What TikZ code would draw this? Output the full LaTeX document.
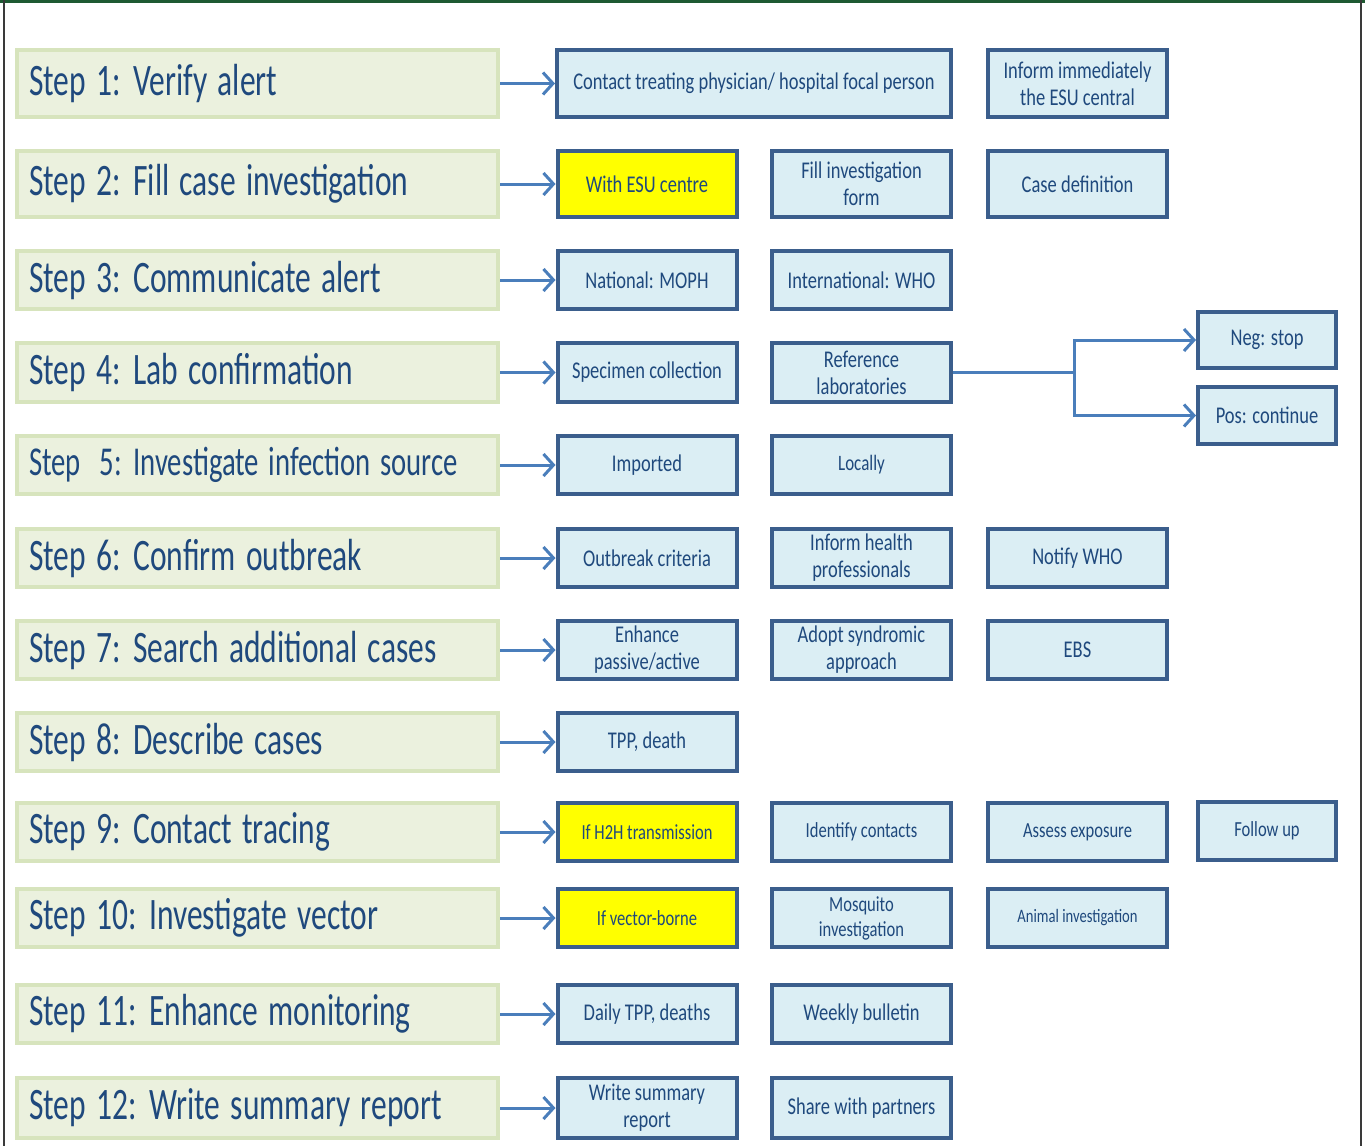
\documentclass[tikz,border=0pt]{standalone}
\usepackage{fontspec}
\setmainfont{Carlito}[FakeStretch=0.70,WordSpace=1.45]
\newfontfamily\boxfont{Carlito}[FakeStretch=0.77]
\usetikzlibrary{positioning,arrows.meta,calc}
\definecolor{stepfill}{HTML}{EBF1DE}
\definecolor{stepline}{HTML}{D7E4BD}
\definecolor{boxfill}{HTML}{DBEEF4}
\definecolor{boxline}{HTML}{3B5E8C}
\definecolor{ink}{HTML}{1F497D}
\definecolor{flow}{HTML}{4A7EBB}
\definecolor{hilite}{HTML}{FFFF00}
\definecolor{frametop}{HTML}{1E5A32}
\definecolor{frameside}{HTML}{3A3A3A}

\tikzset{
  stepbox/.style={draw=stepline,fill=stepfill,line width=4pt,text=ink,
    anchor=west,text width=457pt,inner xsep=12pt,align=flush left,minimum height=58pt,
    font=\fontsize{45}{50}\selectfont},
  actbox/.style={draw=boxline,fill=boxfill,line width=4pt,text=ink,
    minimum width=179pt,minimum height=58pt,align=center,inner sep=2pt,
    font=\boxfont\fontsize{24}{27}\selectfont},
  hibox/.style={actbox,fill=hilite},
  small/.style={font=\boxfont\fontsize{#1}{25}\selectfont},
  flowarrow/.style={draw=flow,line width=3pt,-{Straight Barb[length=10pt,width=22pt]}},
  flowline/.style={draw=flow,line width=3pt}
}

\begin{document}
\begin{tikzpicture}[x=1pt,y=-1pt]
  \useasboundingbox (0,0) rectangle (1365,1146);

  % outer frame
  \draw[frametop,line width=3pt] (0,1.5) -- (1365,1.5);
  \draw[frameside,line width=2pt] (4,0) -- (4,1146);
  \draw[frameside,line width=2pt] (1361,0) -- (1361,1146);

  % steps
  \node[stepbox,minimum height=67pt] (s1) at (15,83.5) {Step 1: Verify alert};
  \node[stepbox,minimum height=66pt] (s2) at (15,184) {Step 2: Fill case investigation};
  \node[stepbox] (s3) at (15,280) {Step 3: Communicate alert};
  \node[stepbox,minimum height=59pt] (s4) at (15,372.5) {Step 4: Lab confirmation};
  \node[stepbox,font=\fontsize{41}{46}\selectfont] (s5) at (15,465) {\mbox{Step\ \ 5: Investigate infection source}};
  \node[stepbox] (s6) at (15,558) {Step 6: Confirm outbreak};
  \node[stepbox] (s7) at (15,650) {Step 7: Search additional cases};
  \node[stepbox] (s8) at (15,742) {Step 8: Describe cases};
  \node[stepbox] (s9) at (15,832) {Step 9: Contact tracing};
  \node[stepbox] (s10) at (15,918) {Step 10: Investigate vector};
  \node[stepbox] (s11) at (15,1014) {Step 11: Enhance monitoring};
  \node[stepbox,minimum height=60pt] (s12) at (15,1108) {Step 12: Write summary report};

  % actions
  \node[actbox,minimum width=394pt,minimum height=67pt] (s1a) at (754,83.5) {Contact treating physician/ hospital focal person};
  \node[actbox,minimum height=67pt] (s1b) at (1077.5,83.5) {Inform immediately\\the ESU central};

  \node[hibox,minimum height=66pt] (s2a) at (647,184) {With ESU centre};
  \node[actbox,minimum height=66pt] (s2b) at (861.5,184) {Fill investigation\\form};
  \node[actbox,minimum height=66pt] (s2c) at (1077.5,184) {Case definition};

  \node[actbox] (s3a) at (647,280) {National: MOPH};
  \node[actbox] (s3b) at (861.5,280) {International: WHO};

  \node[actbox,minimum height=59pt] (s4a) at (647,372.5) {Specimen collection};
  \node[actbox,minimum height=59pt] (s4b) at (861.5,372.5) {Reference\\laboratories};
  \node[actbox,minimum width=138pt,minimum height=56pt] (neg) at (1267,340) {Neg: stop};
  \node[actbox,minimum width=138pt,minimum height=57pt] (pos) at (1267,415.5) {Pos: continue};

  \node[actbox] (s5a) at (647,465) {Imported};
  \node[actbox,small=22] (s5b) at (861.5,465) {Locally};

  \node[actbox] (s6a) at (647,558) {Outbreak criteria};
  \node[actbox] (s6b) at (861.5,558) {Inform health\\professionals};
  \node[actbox] (s6c) at (1077.5,558) {Notify WHO};

  \node[actbox] (s7a) at (647,650) {Enhance\\passive/active};
  \node[actbox] (s7b) at (861.5,650) {Adopt syndromic\\approach};
  \node[actbox] (s7c) at (1077.5,650) {EBS};

  \node[actbox] (s8a) at (647,742) {TPP, death};

  \node[hibox,small=21.5] (s9a) at (647,832) {If H2H transmission};
  \node[actbox,small=21.5] (s9b) at (861.5,832) {Identify contacts};
  \node[actbox,small=21.5] (s9c) at (1077.5,832) {Assess exposure};
  \node[actbox,minimum width=138pt,small=21.5] (s9d) at (1267,831) {Follow up};

  \node[hibox,small=21.5] (s10a) at (647,918) {If vector-borne};
  \node[actbox,small=21.5] (s10b) at (861.5,918) {Mosquito\\investigation};
  \node[actbox,small=19] (s10c) at (1077.5,918) {Animal investigation};

  \node[actbox] (s11a) at (647,1014) {Daily TPP, deaths};
  \node[actbox] (s11b) at (861.5,1014) {Weekly bulletin};

  \node[actbox,minimum height=60pt] (s12a) at (647,1108) {Write summary\\report};
  \node[actbox,minimum height=60pt] (s12b) at (861.5,1108) {Share with partners};

  % step to first action
  \draw[flowarrow] (s1.east) -- (s1.east -| s1a.west);
  \draw[flowarrow] (s2.east) -- (s2a.west);
  \draw[flowarrow] (s3.east) -- (s3a.west);
  \draw[flowarrow] (s4.east) -- (s4a.west);
  \draw[flowarrow] (s5.east) -- (s5a.west);
  \draw[flowarrow] (s6.east) -- (s6a.west);
  \draw[flowarrow] (s7.east) -- (s7a.west);
  \draw[flowarrow] (s8.east) -- (s8a.west);
  \draw[flowarrow] (s9.east) -- (s9a.west);
  \draw[flowarrow] (s10.east) -- (s10a.west);
  \draw[flowarrow] (s11.east) -- (s11a.west);
  \draw[flowarrow] (s12.east) -- (s12a.west);

  % lab result fork
  \coordinate (fork) at ($(s4b.east)+(121,0)$);
  \draw[flowline] (s4b.east) -- (fork);
  \draw[flowarrow] (fork) |- (neg.west);
  \draw[flowarrow] (fork) |- (pos.west);
\end{tikzpicture}
\end{document}
